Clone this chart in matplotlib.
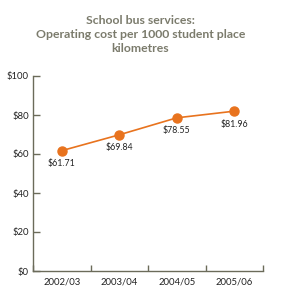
import matplotlib.pyplot as plt
import numpy as np

years = ['2002/03', '2003/04', '2004/05', '2005/06']
cost = [61.71, 69.84, 78.55, 81.96]
yticks = [0, 20, 40, 60, 80, 100]

axis_col = '#6b6b5a'
line_col = '#e8731e'
title_col = '#7b7b6c'

plt.rcParams['font.family'] = ['Lato', 'DejaVu Sans']

fig = plt.figure(figsize=(2.81, 2.97), dpi=100)
ax = fig.add_axes([33 / 281, 1 - 271 / 297, 230 / 281, 195 / 297])

x = np.arange(len(years))
ax.plot(x, cost, color=line_col, lw=1.2, marker='o', ms=6.5, zorder=3, clip_on=False)
for xi, v in zip(x, cost):
    ax.annotate('$%.2f' % v, (xi, v), xytext=(0, -6), textcoords='offset points',
                ha='center', va='top', fontsize=6.3, color='#222222')

ax.set_xlim(-0.5, len(years) - 0.5)
ax.set_ylim(0, 100)
ax.set_yticks(yticks)
ax.set_yticklabels(['$%d' % t for t in yticks], fontsize=6.8, color='#222222')
ax.set_xticks(x)
ax.set_xticklabels(years, fontsize=6.8, color='#222222')
ax.set_xticks(np.arange(-0.5, len(years)), minor=True)
ax.tick_params(axis='x', which='major', length=0, pad=5)
ax.tick_params(axis='x', which='minor', direction='in', length=4, color=axis_col, width=1)
ax.tick_params(axis='y', direction='in', length=5, color=axis_col, width=1, pad=3)

for s in ['top', 'right']:
    ax.spines[s].set_visible(False)
for s in ['left', 'bottom']:
    ax.spines[s].set_color(axis_col)
    ax.spines[s].set_linewidth(1)

fig.text(0.5, 1 - 34.5 / 297, 'School bus services:\nOperating cost per 1000 student place\nkilometres',
         ha='center', va='center', fontsize=8.8, fontweight='bold', color=title_col, linespacing=1.3)

fig.savefig('out.png', dpi=100)
